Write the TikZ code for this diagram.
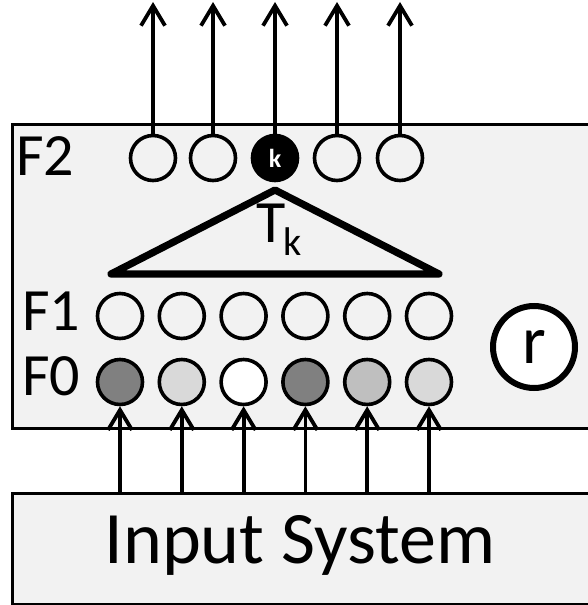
\documentclass[tikz,border=0pt]{standalone}
\usepackage{fontspec}
\setmainfont{Carlito}
\usetikzlibrary{arrows.meta}
\definecolor{panelgray}{RGB}{242,242,242}

\begin{document}
\begin{tikzpicture}[
  x=0.5pt, y=-0.5pt,
  panel/.style={draw,line width=1.6pt,fill=panelgray,inner sep=0pt,anchor=north west,minimum width=304.5pt},
  unit/.style={draw,circle,line width=1.8pt,minimum size=22.5pt,inner sep=0pt},
  layer/.style={font=\fontsize{30}{30}\selectfont,anchor=base west,inner sep=0pt},
  link/.style={line width=1.9pt,-{Straight Barb[length=10pt,width=12pt]}}
]
\useasboundingbox (0,0) rectangle (588,605);
\node[panel,minimum height=152pt] (art) at (11,123) {};
\node[panel,minimum height=55.5pt] (insys) at (11,492) {};
\node[font=\fontsize{37}{37}\selectfont,anchor=base,inner sep=0pt] (intext) at (300,563) {Input System};
\coordinate (top) at (0,2);
% layers
\node[layer] (f2lab) at (16,175) {F2};
\node[layer] (f1lab) at (22,330) {F1};
\node[layer] (f0lab) at (22,395) {F0};
\foreach \x/\t/\c [count=\i] in {153//none,213//none,275/k/black,337//none,400//none}
  \node[unit,fill=\c,text=white,font=\bfseries\fontsize{13}{13}\selectfont] (f2-\i) at (\x,158) {\t};
\foreach \i in {1,...,6}
  \node[unit] (f1-\i) at ({120+61.8*(\i-1)},316) {};
\foreach \c [count=\i] in {black!50,black!15,white,black!50,black!25,black!15}
  \node[unit,fill=\c] (f0-\i) at ({120+61.8*(\i-1)},382) {};
% template
\draw[line width=3.6pt,line join=round,line cap=round] (275,190) -- (439,274) -- (111,274) -- cycle;
\node[font=\fontsize{30}{30}\selectfont,anchor=base west,inner sep=0pt] (tk) at (256,242) {T\kern-1pt\raisebox{-0.22em}{\fontsize{20}{20}\selectfont k}};
\node[draw,circle,line width=3pt,fill=white,minimum size=41pt,inner sep=0pt,font=\fontsize{34}{34}\selectfont] (r) at (534,347) {r};
% connections
\foreach \i in {1,...,5}
  \draw[link] (f2-\i) -- (f2-\i |- top);
\foreach \i in {1,...,6}
  \draw[link] (f0-\i |- insys.north) -- (f0-\i);
\end{tikzpicture}
\end{document}
